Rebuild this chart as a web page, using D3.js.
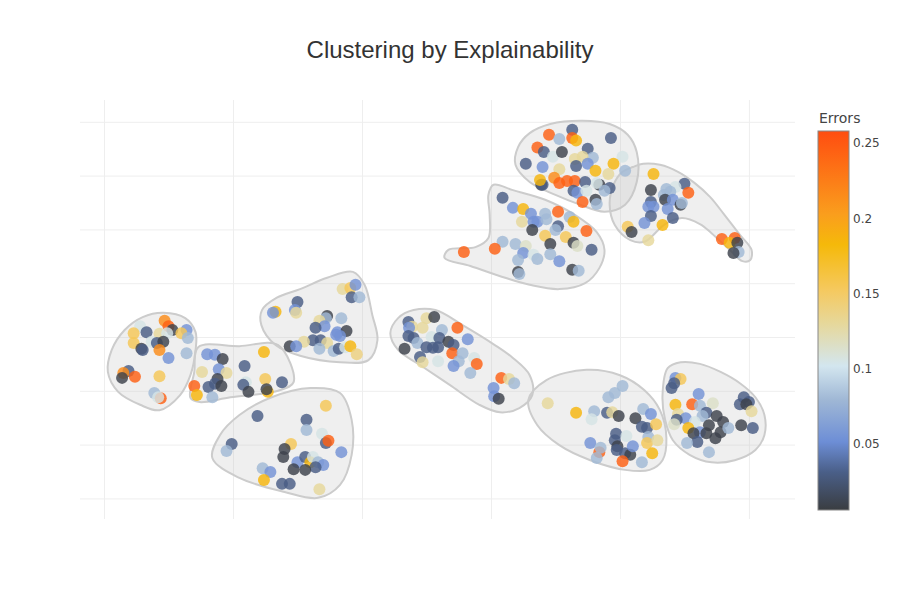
<!DOCTYPE html>
<html>
<head>
<meta charset="utf-8">
<script src="https://cdn.jsdelivr.net/npm/d3@7"></script>
<style>
    body { margin: 0; background: #fff; }
    #chart { width: 900px; height: 600px; }
</style>
</head>
<body>
<div id="chart"></div>
<script>
// 聚类散点图：每个点按 Errors 着色，每个簇外包一个平滑的轮廓

// 每个点: [x, y, errors]
const cluster1 = [
    [-27.2, 2.0, 0.105], [-27.7, 0.7, 0.155], [-26.7, 0.9, 0.03], [-25.3, 3.0, 0.215], [-25.0, 2.0, 0.245],
    [-24.7, 1.3, 0.01], [-25.7, 0.6, 0.13], [-25.1, 0.7, 0.105], [-23.6, 1.3, 0.055], [-24.0, 0.7, 0.155],
    [-23.5, -0.2, 0.08], [-27.7, -1.1, 0.155], [-26.3, -0.9, 0.105], [-25.9, -1.1, 0.03], [-25.4, -0.9, 0.01],
    [-27.1, -2.2, 0.01], [-27.0, -2.4, 0.03], [-25.7, -2.4, 0.215], [-25.0, -3.9, 0.055], [-23.6, -3.0, 0.08],
    [-28.1, -6.3, 0.03], [-28.5, -6.7, 0.215], [-28.6, -7.6, 0.01], [-27.6, -7.4, 0.245], [-25.7, -7.3, 0.155],
    [-26.1, -10.4, 0.08], [-25.6, -11.4, 0.245], [-25.8, -11.2, 0.105]
];
const cluster2 = [
    [-23.0, -9.1, 0.245], [-22.8, -10.8, 0.185], [-22.0, -3.2, 0.055], [-21.4, -3.3, 0.055], [-20.8, -4.1, 0.01],
    [-21.1, -6.0, 0.055], [-22.4, -6.5, 0.13], [-20.5, -6.7, 0.13], [-21.2, -7.8, 0.01], [-21.4, -8.7, 0.03],
    [-20.9, -9.1, 0.01], [-21.9, -9.3, 0.03], [-21.6, -11.2, 0.08], [-19.1, -5.4, 0.03], [-19.0, -8.4, 0.105],
    [-19.2, -8.9, 0.03], [-18.8, -10.2, 0.01], [-17.6, -2.8, 0.185], [-17.5, -7.8, 0.155], [-17.3, -10.2, 0.185],
    [-17.4, -9.7, 0.01], [-16.2, -8.4, 0.03]
];
const cluster3 = [
    [-12.8, -12.8, 0.155], [-18.1, -14.7, 0.03], [-14.3, -15.4, 0.03], [-14.3, -17.3, 0.08], [-13.1, -18.0, 0.105],
    [-12.8, -19.7, 0.03], [-12.6, -19.3, 0.245], [-15.5, -19.9, 0.155], [-20.1, -19.9, 0.03], [-20.5, -21.2, 0.08],
    [-16.0, -20.8, 0.01], [-16.1, -22.3, 0.01], [-11.6, -21.4, 0.055], [-15.0, -23.3, 0.055], [-14.4, -22.3, 0.03],
    [-14.0, -23.3, 0.185], [-13.8, -22.3, 0.105], [-13.4, -23.3, 0.08], [-13.0, -23.8, 0.055], [-13.6, -24.2, 0.03],
    [-15.3, -24.6, 0.01], [-14.4, -24.7, 0.01], [-17.7, -24.4, 0.08], [-17.1, -25.1, 0.055], [-17.6, -26.6, 0.185],
    [-16.2, -27.3, 0.03], [-15.6, -27.3, 0.03], [-13.3, -28.3, 0.13]
];
const cluster4 = [
    [-11.5, 8.9, 0.13], [-10.9, 9.1, 0.155], [-10.5, 9.7, 0.055], [-10.8, 7.4, 0.03], [-10.2, 7.4, 0.08],
    [-15.0, 6.5, 0.03], [-16.7, 4.7, 0.185], [-16.9, 4.5, 0.055], [-15.2, 5.0, 0.055], [-15.1, 4.5, 0.13],
    [-12.7, 3.9, 0.01], [-12.8, 3.5, 0.08], [-13.3, 3.0, 0.13], [-12.9, 2.0, 0.055], [-11.6, 3.5, 0.08],
    [-13.6, 1.7, 0.03], [-11.9, 0.9, 0.055], [-11.2, 1.1, 0.01], [-11.7, 0.2, 0.055], [-12.0, 0.4, 0.055],
    [-13.8, -0.6, 0.03], [-13.2, -0.6, 0.03], [-12.7, -1.1, 0.13], [-14.5, -0.9, 0.13], [-15.6, -1.7, 0.01],
    [-15.1, -1.7, 0.055], [-13.3, -2.2, 0.08], [-12.2, -2.6, 0.08], [-11.8, -2.2, 0.03], [-11.3, -1.9, 0.105],
    [-10.9, -1.7, 0.185], [-10.4, -3.2, 0.14]
];
const cluster5 = [
    [-6.4, 2.8, 0.03], [-6.1, 1.9, 0.13], [-6.35, 1.7, 0.055], [-5.0, 3.5, 0.13], [-4.4, 3.7, 0.01],
    [-5.3, 1.7, 0.13], [-3.8, 1.3, 0.08], [-2.6, 1.7, 0.245], [-6.4, 0.2, 0.03], [-6.0, -0.2, 0.03],
    [-5.7, -1.1, 0.08], [-4.6, 0.0, 0.105], [-4.0, -0.2, 0.03], [-3.3, -0.9, 0.01], [-2.9, -1.5, 0.03],
    [-1.8, -0.4, 0.055], [-5.0, -1.9, 0.03], [-4.5, -2.0, 0.03], [-4.1, -1.9, 0.03], [-6.7, -2.2, 0.01],
    [-5.5, -3.7, 0.03], [-5.3, -4.7, 0.13], [-3.0, -3.0, 0.245], [-2.2, -3.0, 0.08], [-4.1, -4.5, 0.105],
    [-2.5, -4.5, 0.08], [-2.9, -5.4, 0.055], [-1.3, -3.9, 0.105], [-1.1, -5.0, 0.245], [-1.6, -6.7, 0.08],
    [0.8, -7.6, 0.245], [1.4, -7.8, 0.13], [1.8, -8.6, 0.08], [0.2, -9.5, 0.055], [0.25, -11.0, 0.055],
    [0.6, -11.5, 0.01]
];
const cluster6 = [
    [4.5, 37.6, 0.245], [5.3, 36.8, 0.08], [6.3, 38.5, 0.03], [6.3, 37.0, 0.245], [6.6, 36.5, 0.185],
    [9.3, 37.0, 0.03], [3.6, 35.2, 0.245], [4.1, 34.4, 0.03], [4.8, 33.5, 0.105], [5.5, 34.4, 0.01],
    [7.5, 35.0, 0.03], [7.9, 33.3, 0.08], [7.1, 33.5, 0.13], [6.5, 33.1, 0.13], [10.2, 33.5, 0.105],
    [2.7, 32.2, 0.03], [4.0, 31.6, 0.055], [5.3, 31.2, 0.13], [6.6, 31.8, 0.03], [7.5, 32.2, 0.055],
    [8.1, 30.9, 0.185], [9.5, 32.2, 0.185], [9.1, 30.3, 0.13], [10.4, 30.9, 0.08], [4.9, 29.6, 0.215],
    [5.3, 28.6, 0.245], [5.9, 29.0, 0.245], [6.5, 29.0, 0.245], [7.3, 28.8, 0.03], [8.4, 28.3, 0.01],
    [8.2, 28.6, 0.105], [3.9, 28.3, 0.01], [4.0, 28.3, 0.03], [3.8, 29.2, 0.185], [6.4, 27.2, 0.03],
    [6.7, 26.8, 0.055], [7.4, 27.2, 0.105], [9.2, 27.7, 0.03], [8.8, 27.2, 0.08], [7.1, 25.1, 0.245],
    [8.1, 25.5, 0.01], [8.2, 24.7, 0.08]
];
const cluster7 = [
    [0.9, 25.9, 0.03], [1.7, 24.0, 0.055], [2.5, 23.8, 0.185], [3.1, 22.9, 0.055], [4.2, 22.9, 0.08],
    [5.2, 23.3, 0.245], [6.1, 22.3, 0.08], [6.4, 21.4, 0.185], [2.4, 21.4, 0.13], [3.3, 21.4, 0.055],
    [3.6, 21.4, 0.055], [4.3, 21.9, 0.08], [5.2, 20.6, 0.03], [5.0, 19.9, 0.08], [3.2, 19.9, 0.01],
    [7.4, 19.7, 0.245], [4.2, 18.8, 0.155], [5.8, 18.6, 0.155], [0.9, 17.7, 0.08], [1.9, 17.3, 0.08],
    [2.7, 16.9, 0.115], [4.6, 17.3, 0.01], [6.4, 17.5, 0.01], [6.7, 16.9, 0.115], [7.8, 16.2, 0.03],
    [0.3, 16.4, 0.245], [-2.1, 15.8, 0.245], [2.5, 15.6, 0.055], [3.3, 15.3, 0.105], [3.6, 14.5, 0.08],
    [4.6, 15.4, 0.08], [5.3, 14.1, 0.055], [2.1, 14.3, 0.08], [6.3, 12.5, 0.01], [6.8, 12.3, 0.08],
    [2.1, 12.1, 0.01], [2.2, 11.7, 0.08]
];
const cluster8 = [
    [12.6, 30.3, 0.185], [12.4, 27.3, 0.01], [15.0, 28.5, 0.03], [15.3, 26.8, 0.245], [14.3, 27.9, 0.105],
    [13.6, 27.5, 0.08], [13.9, 27.0, 0.08], [13.4, 26.4, 0.08], [13.5, 25.5, 0.01], [12.4, 25.1, 0.03],
    [14.1, 25.5, 0.055], [14.7, 24.6, 0.01], [14.8, 24.9, 0.08], [12.2, 24.2, 0.055], [12.6, 24.2, 0.055],
    [13.7, 23.8, 0.055], [12.4, 22.5, 0.03], [14.1, 22.1, 0.03], [11.9, 21.2, 0.055], [13.3, 20.8, 0.185],
    [10.6, 20.5, 0.155], [10.9, 19.5, 0.01], [12.2, 18.0, 0.13], [17.9, 18.2, 0.245], [18.9, 18.4, 0.245],
    [18.5, 17.5, 0.185], [19.1, 17.5, 0.01], [19.2, 15.8, 0.08], [18.8, 15.6, 0.01]
];
const cluster9 = [
    [4.4, -12.3, 0.13], [6.6, -14.1, 0.185], [8.0, -13.8, 0.08], [7.8, -15.3, 0.105], [9.0, -14.1, 0.03],
    [9.4, -14.0, 0.13], [9.1, -11.2, 0.08], [9.6, -10.4, 0.08], [10.2, -9.1, 0.08], [9.9, -14.7, 0.01],
    [11.2, -15.1, 0.01], [11.8, -13.4, 0.08], [12.4, -14.3, 0.055], [11.7, -16.7, 0.03], [12.1, -16.9, 0.03],
    [12.8, -16.2, 0.155], [9.7, -18.0, 0.03], [9.6, -19.2, 0.03], [10.5, -18.4, 0.105], [12.2, -18.6, 0.08],
    [12.1, -19.7, 0.155], [12.9, -19.2, 0.13], [7.7, -19.7, 0.055], [8.4, -21.4, 0.245], [8.5, -20.6, 0.08],
    [8.2, -22.5, 0.08], [9.8, -20.3, 0.01], [9.75, -21.0, 0.03], [10.4, -21.6, 0.03], [10.8, -21.9, 0.01],
    [11.0, -20.3, 0.055], [12.5, -21.6, 0.185], [10.2, -23.1, 0.245], [11.7, -23.3, 0.08]
];
const cluster10 = [
    [14.3, -7.6, 0.055], [14.7, -7.8, 0.155], [14.2, -8.6, 0.03], [14.0, -9.5, 0.03], [16.1, -10.6, 0.055],
    [17.2, -12.3, 0.115], [14.3, -12.6, 0.185], [15.6, -12.5, 0.245], [16.2, -12.8, 0.08], [16.7, -14.1, 0.03],
    [17.5, -14.7, 0.01], [16.4, -14.7, 0.08], [14.5, -14.3, 0.13], [15.1, -15.1, 0.055], [14.4, -15.4, 0.03],
    [14.2, -16.2, 0.115], [15.8, -15.8, 0.105], [16.9, -16.4, 0.01], [18.0, -15.8, 0.01], [15.3, -16.9, 0.185],
    [16.2, -17.7, 0.055], [15.7, -17.9, 0.01], [16.7, -17.9, 0.01], [17.8, -17.7, 0.01], [18.4, -16.9, 0.08],
    [17.4, -18.8, 0.01], [16.0, -19.5, 0.03], [15.2, -19.7, 0.08], [16.9, -21.4, 0.08], [19.3, -12.5, 0.03],
    [19.6, -11.2, 0.03], [20.0, -12.1, 0.03], [19.8, -12.5, 0.01], [20.2, -13.8, 0.13], [19.4, -16.4, 0.01],
    [20.3, -16.9, 0.03]
];

// 每个簇的轮廓顶点 [x, y]
const hullOutlines = [
    [[-25.4, 4.5], [-23.7, 3.5], [-22.9, 0.9], [-22.9, -2.4], [-23.3, -7.1], [-24.1, -10.8], [-25.7, -13.6],
     [-27.2, -12.6], [-28.9, -10.2], [-29.7, -6.5], [-29.4, -2.4], [-28.4, 1.3], [-27.0, 3.7]],
    [[-22.7, -1.9], [-19.5, -1.7], [-16.5, -1.5], [-15.3, -8.4], [-16.5, -10.0], [-20.2, -11.2], [-22.6, -12.1],
     [-23.3, -11.3], [-23.0, -6.5]],
    [[-17.1, -11.3], [-14.0, -9.5], [-11.7, -10.4], [-10.8, -15.4], [-10.8, -21.9], [-11.7, -27.5], [-13.4, -29.9],
     [-16.0, -28.8], [-19.5, -26.2], [-21.6, -22.5], [-21.0, -18.2], [-19.5, -14.5]],
    [[-12.7, 11.0], [-10.7, 12.1], [-9.8, 9.7], [-9.2, 4.1], [-8.8, -0.6], [-9.5, -4.3], [-11.7, -4.7],
     [-14.8, -3.5], [-16.7, -1.5], [-17.8, 2.2], [-17.75, 5.0], [-16.6, 7.3], [-14.8, 8.9]],
    [[-6.0, 5.0], [-4.3, 5.0], [-2.2, 2.2], [0.3, -1.5], [1.7, -3.9], [3.0, -7.1], [3.2, -10.8], [2.2, -13.2],
     [0.7, -14.0], [-0.9, -12.6], [-3.2, -8.9], [-5.5, -5.2], [-7.2, -2.4], [-7.8, 0.7], [-7.2, 3.5]],
    [[3.0, 37.9], [4.6, 39.6], [7.1, 40.2], [9.2, 39.6], [10.6, 37.6], [11.3, 34.4], [11.3, 28.8], [10.4, 24.6],
     [8.8, 23.3], [6.9, 24.6], [5.0, 26.4], [3.0, 28.8], [1.9, 32.0], [2.1, 35.3]],
    [[0.2, 28.3], [1.7, 27.3], [4.2, 25.5], [6.5, 22.7], [8.2, 19.5], [8.8, 16.2], [8.4, 12.8], [7.3, 10.0],
     [5.3, 8.9], [3.0, 9.7], [1.1, 11.0], [-1.6, 13.2], [-3.6, 14.7], [-3.3, 16.2], [-1.2, 16.7], [-0.2, 18.4],
     [-0.1, 22.7], [-0.2, 26.4]],
    [[11.0, 31.6], [11.8, 32.2], [13.1, 32.0], [14.5, 30.7], [15.8, 28.6], [17.0, 26.0], [18.1, 22.7], [19.3, 19.0],
     [20.2, 16.2], [20.1, 14.3], [19.5, 14.1], [18.5, 16.2], [17.1, 19.3], [16.2, 21.0], [14.8, 22.1], [13.5, 21.0],
     [11.9, 17.7], [10.8, 18.0], [9.6, 20.8], [9.2, 24.6], [9.5, 28.3], [10.2, 30.7]],
    [[4.3, -8.0], [7.4, -6.1], [10.0, -7.1], [11.9, -9.9], [13.1, -13.6], [13.6, -18.8], [13.3, -22.9], [12.3, -24.7],
     [10.4, -24.7], [7.7, -22.9], [5.3, -20.1], [3.6, -16.4], [2.9, -11.7]],
    [[13.7, -5.8], [14.7, -4.7], [16.2, -5.0], [17.8, -6.5], [19.3, -8.6], [20.5, -11.2], [21.2, -14.5], [21.2, -18.2],
     [20.5, -21.0], [18.9, -22.9], [17.1, -23.3], [15.4, -21.9], [14.1, -19.2], [13.5, -15.4], [13.3, -10.8]]
];

// 坐标网格（不显示刻度文字）
const xTicks = [-30, -20, -10, 0, 10, 20];
const yTicks = [-30, -20, -10, 0, 10, 20, 30, 40];

// Errors 色标
const errorDomain = [0.006, 0.258];
const colorStops = [
    [0.00, '#3a3d41'], [0.10, '#4a5f88'], [0.18, '#6d8ed6'], [0.29, '#9fb7d5'],
    [0.38, '#d3e6ef'], [0.49, '#e6d89c'], [0.58, '#f5c95f'], [0.70, '#f5b90a'],
    [0.78, '#fa9e1d'], [1.00, '#ff4d10']
];
const colorTicks = [0.05, 0.1, 0.15, 0.2, 0.25];

(function () {
    'use strict';

    const clusters = [cluster1, cluster2, cluster3, cluster4, cluster5,
        cluster6, cluster7, cluster8, cluster9, cluster10];

    const margin = { top: 100, right: 105, bottom: 81, left: 80 };
    const width = 900 - margin.left - margin.right;
    const height = 600 - margin.top - margin.bottom;

    const svg = d3.select('#chart').append('svg')
        .attr('width', 900).attr('height', 600);

    const g = svg.append('g').attr('transform', 'translate(' + margin.left + ',' + margin.top + ')');

    const xScale = d3.scaleLinear().domain([-31.86, 23.57]).range([0, width]);
    const yScale = d3.scaleLinear().domain([-33.83, 44.05]).range([height, 0]);

    // 色标：按 stop 位置插值
    const colorScale = d3.scaleLinear()
        .domain(colorStops.map(function (s) {
            return errorDomain[0] + s[0] * (errorDomain[1] - errorDomain[0]);
        }))
        .range(colorStops.map(function (s) { return s[1]; }))
        .interpolate(d3.interpolateRgb)
        .clamp(true);

    // 网格线
    g.append('g').attr('class', 'xgrid')
        .call(d3.axisBottom(xScale).tickValues(xTicks).tickSize(height).tickFormat(''))
        .call(function (a) { a.select('.domain').remove(); })
        .selectAll('line').attr('stroke', '#eeeeee');
    g.append('g').attr('class', 'ygrid')
        .call(d3.axisLeft(yScale).tickValues(yTicks).tickSize(-width).tickFormat(''))
        .call(function (a) { a.select('.domain').remove(); })
        .selectAll('line').attr('stroke', '#eeeeee');

    // 簇轮廓
    const hullLine = d3.line()
        .x(function (d) { return xScale(d[0]); })
        .y(function (d) { return yScale(d[1]); })
        .curve(d3.curveCatmullRomClosed.alpha(0.5));

    g.append('g').attr('class', 'hulls')
        .selectAll('path').data(hullOutlines)
        .enter().append('path')
        .attr('d', hullLine)
        .attr('fill', 'rgba(195,195,195,0.27)')
        .attr('stroke', '#cccccc')
        .attr('stroke-width', 2);

    // 散点
    const points = [];
    clusters.forEach(function (c) {
        c.forEach(function (p) { points.push(p); });
    });

    g.append('g').attr('class', 'points')
        .selectAll('circle').data(points)
        .enter().append('circle')
        .attr('cx', function (d) { return xScale(d[0]); })
        .attr('cy', function (d) { return yScale(d[1]); })
        .attr('r', 6)
        .attr('fill', function (d) { return colorScale(d[2]); })
        .attr('opacity', 0.82);

    // 标题
    svg.append('text')
        .attr('x', 450).attr('y', 58)
        .attr('text-anchor', 'middle')
        .style('font-family', '"Liberation Sans", Arial, sans-serif')
        .style('font-size', '24px')
        .attr('fill', '#333')
        .text('Clustering by Explainability');

    // 色条
    const barX = 818, barY = 131, barW = 31, barH = 379;
    const cScale = d3.scaleLinear().domain(errorDomain).range([barY + barH, barY]);

    const grad = svg.append('defs').append('linearGradient')
        .attr('id', 'errGrad')
        .attr('x1', 0).attr('y1', 1).attr('x2', 0).attr('y2', 0);
    grad.selectAll('stop').data(colorStops)
        .enter().append('stop')
        .attr('offset', function (d) { return d[0]; })
        .attr('stop-color', function (d) { return d[1]; });

    svg.append('rect')
        .attr('x', barX).attr('y', barY)
        .attr('width', barW).attr('height', barH)
        .attr('fill', 'url(#errGrad)')
        .attr('stroke', '#888').attr('stroke-width', 1);

    svg.append('g').attr('class', 'cbar')
        .attr('transform', 'translate(' + (barX + barW) + ',0)')
        .call(d3.axisRight(cScale).tickValues(colorTicks).tickSize(0).tickPadding(4).tickFormat(d3.format('~g')))
        .call(function (a) { a.select('.domain').remove(); })
        .selectAll('text')
        .style('font-family', '"DejaVu Sans", Verdana, sans-serif')
        .style('font-size', '12px')
        .attr('fill', '#444');

    svg.append('text')
        .attr('x', 819).attr('y', 123)
        .style('font-family', '"DejaVu Sans", Verdana, sans-serif')
        .style('font-size', '14px')
        .attr('fill', '#444')
        .text('Errors');
}());
</script>
</body>
</html>
